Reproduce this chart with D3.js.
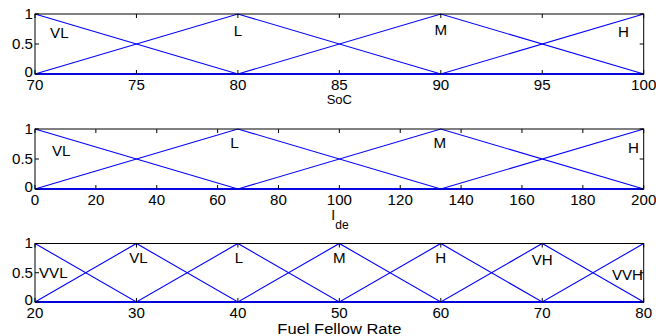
<!DOCTYPE html>
<html>
<head>
<meta charset="utf-8">
<script src="https://cdn.jsdelivr.net/npm/d3@7"></script>
<style>
  body { margin: 0; background: #fff; }
  svg { display: block; font-family: "Liberation Sans", Arial, sans-serif; }
</style>
</head>
<body>
<svg id="chart" width="656" height="336"></svg>
<script>
// ─── Data ───
const socDomain = [70, 100];
const socTicks  = [70, 75, 80, 85, 90, 95, 100];
const socNames  = ["VL", "L", "M", "H"];
const socParams = [[60, 70, 80], [70, 80, 90], [80, 90, 100], [90, 100, 110]];
const socLabelX = [71.2, 80, 90, 99];
const socLabelY = [0.68, 0.72, 0.73, 0.70];

const ideDomain = [0, 200];
const ideTicks  = [0, 20, 40, 60, 80, 100, 120, 140, 160, 180, 200];
const ideNames  = ["VL", "L", "M", "H"];
const ideParams = [[-66.67, 0, 66.67], [0, 66.67, 133.33], [66.67, 133.33, 200], [133.33, 200, 266.67]];
const ideLabelX = [8.6, 65.5, 133, 196.6];
const ideLabelY = [0.63, 0.77, 0.77, 0.68];

const fuelDomain = [20, 80];
const fuelTicks  = [20, 30, 40, 50, 60, 70, 80];
const fuelNames  = ["VVL", "VL", "L", "M", "H", "VH", "VVH"];
const fuelParams = [[10, 20, 30], [20, 30, 40], [30, 40, 50], [40, 50, 60], [50, 60, 70], [60, 70, 80], [70, 80, 90]];
const fuelLabelX = [21.8, 30.2, 40.1, 50, 60, 70, 78.4];
const fuelLabelY = [0.50, 0.75, 0.745, 0.75, 0.75, 0.715, 0.45];

const yTicks = [0, 0.5, 1];

// ─── Layout ───
const svg = d3.select("#chart");
const left = 35, right = 643.7;
const panels = [
  { top: 14,    h: 60,   domain: socDomain,  ticks: socTicks,  names: socNames,  params: socParams,  lx: socLabelX,  ly: socLabelY,  title: "SoC" },
  { top: 129,   h: 60,   domain: ideDomain,  ticks: ideTicks,  names: ideNames,  params: ideParams,  lx: ideLabelX,  ly: ideLabelY,  title: "Ide" },
  { top: 243.5, h: 58.5, domain: fuelDomain, ticks: fuelTicks, names: fuelNames, params: fuelParams, lx: fuelLabelX, ly: fuelLabelY, title: "Fuel Fellow Rate" }
];

function trimf(x, p) {
  const [a, b, c] = p;
  return Math.max(0, Math.min((x - a) / (b - a), (c - x) / (c - b)));
}

// text slightly stretched horizontally, like the original render
function label(g, x, y, str, anchor, size) {
  return g.append("text")
    .attr("transform", `translate(${x},${y}) scale(1.08,1)`)
    .attr("text-anchor", anchor).attr("dominant-baseline", "central")
    .attr("font-size", size).attr("fill", "#000")
    .text(str);
}

panels.forEach(p => {
  const x = d3.scaleLinear().domain(p.domain).range([left, right]);
  const y = d3.scaleLinear().domain([0, 1]).range([p.top + p.h, p.top]);
  const g = svg.append("g");

  // membership functions
  const line = d3.line().x(d => x(d[0])).y(d => y(d[1]));
  p.params.forEach(par => {
    const xs = [p.domain[0], ...par, p.domain[1]]
      .filter(v => v >= p.domain[0] && v <= p.domain[1])
      .sort((a, b) => a - b);
    g.append("path")
      .attr("d", line(xs.map(v => [v, trimf(v, par)])))
      .attr("fill", "none")
      .attr("stroke", "#0000ff")
      .attr("stroke-width", 1.1);
  });

  // box
  g.append("rect")
    .attr("x", left).attr("y", p.top)
    .attr("width", right - left).attr("height", p.h)
    .attr("fill", "none").attr("stroke", "#000").attr("stroke-width", 1);
  g.append("line")
    .attr("x1", left).attr("x2", right)
    .attr("y1", y(0)).attr("y2", y(0))
    .attr("stroke", "#0000ff").attr("stroke-width", 1.5);

  // ticks (inside)
  const tl = 4;
  p.ticks.forEach(t => {
    g.append("line").attr("x1", x(t)).attr("x2", x(t))
      .attr("y1", y(0)).attr("y2", y(0) - tl).attr("stroke", "#000");
    g.append("line").attr("x1", x(t)).attr("x2", x(t))
      .attr("y1", y(1)).attr("y2", y(1) + tl).attr("stroke", "#000");
    label(g, x(t), y(0) + 11, t, "middle", 14);
  });
  yTicks.forEach(t => {
    g.append("line").attr("x1", left).attr("x2", left + tl)
      .attr("y1", y(t)).attr("y2", y(t)).attr("stroke", "#000");
    g.append("line").attr("x1", right).attr("x2", right - tl)
      .attr("y1", y(t)).attr("y2", y(t)).attr("stroke", "#000");
    label(g, left - 2, y(t) - (t === 0 ? 2 : 0), t, "end", 14);
  });

  // MF labels
  p.names.forEach((n, i) => label(g, x(p.lx[i]), y(p.ly[i]), n, "middle", 14));

  // axis title
  const cx = (left + right) / 2;
  if (p.title === "Ide") {
    const t = g.append("text")
      .attr("x", cx - 8).attr("y", y(0) + 26)
      .attr("font-size", 14).attr("fill", "#000")
      .attr("dominant-baseline", "central");
    t.append("tspan").text("I");
    t.append("tspan").attr("dy", 10).attr("font-size", 12).text("de");
  } else if (p.title === "SoC") {
    g.append("text")
      .attr("x", cx).attr("y", y(0) + 25)
      .attr("text-anchor", "middle").attr("dominant-baseline", "central")
      .attr("font-size", 13).attr("fill", "#000")
      .text(p.title);
  } else {
    g.append("text")
      .attr("x", cx).attr("y", y(0) + 27)
      .attr("text-anchor", "middle").attr("dominant-baseline", "central")
      .attr("font-size", 14).attr("fill", "#000")
      .attr("textLength", 124).attr("lengthAdjust", "spacingAndGlyphs")
      .text(p.title);
  }
});
</script>
</body>
</html>
